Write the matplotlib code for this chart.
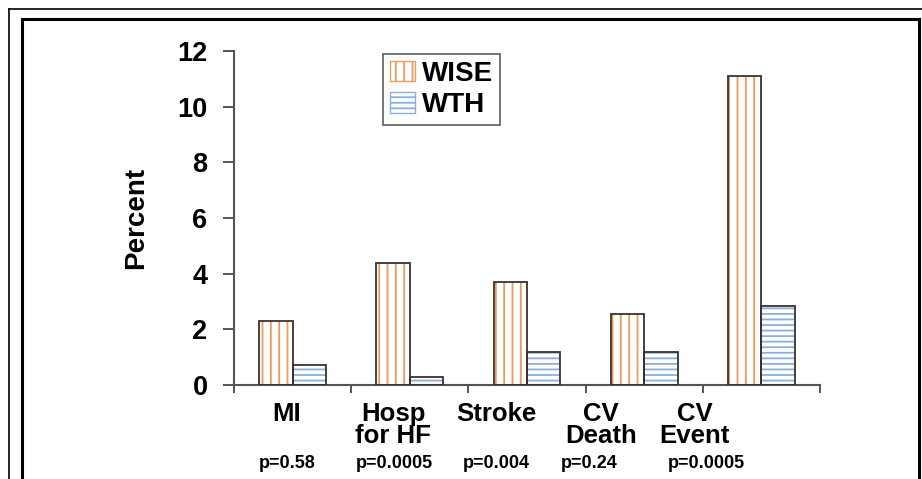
import matplotlib
matplotlib.use("Agg")
import matplotlib.pyplot as plt
import numpy as np
from matplotlib.lines import Line2D
from matplotlib.patches import Patch

categories = ["MI", "Hosp\nfor HF", "Stroke", "CV\nDeath", "CV\nEvent"]
wise = [2.31, 4.37, 3.70, 2.55, 11.10]
wth = [0.72, 0.30, 1.18, 1.18, 2.85]
p_values = ["p=0.58", "p=0.0005", "p=0.004", "p=0.24", "p=0.0005"]
yticks = [0, 2, 4, 6, 8, 10, 12]

# label placement (data units)
cat_label_x = [-0.05, 0.86, 1.74, 2.63, 3.43]
p_label_x = [-0.29, 0.54, 1.45, 2.29, 3.20]

plt.rcParams['font.family'] = ['Liberation Sans', 'DejaVu Sans']
plt.rcParams['font.weight'] = 'bold'
plt.rcParams['hatch.linewidth'] = 1.3

fig = plt.figure(figsize=(9.22, 4.79), dpi=100)
ax = fig.add_axes([234/922, 1-385/479, (820-234)/922, (385-51)/479])

x = np.arange(len(categories))
w = 0.285
orange = "#f09a5a"
blue = "#8cb0dc"
edge = "#3a3030"

# hatched fills
ax.bar(x - w/2, wise, w, color="white", edgecolor=orange, hatch="||", linewidth=0, zorder=2)
ax.bar(x + w/2, wth, w, color="white", edgecolor=blue, hatch="---", linewidth=0, zorder=2)
# outlines
ax.bar(x - w/2, wise, w, fill=False, edgecolor=edge, linewidth=1.3, zorder=3)
ax.bar(x + w/2, wth, w, fill=False, edgecolor=edge, linewidth=1.3, zorder=3)

ax.set_xlim(-0.5, 4.5)
ax.set_ylim(0, 12)
ax.set_yticks(yticks)
ax.set_yticklabels([str(v) for v in yticks], fontsize=19.5, fontweight='bold')
ax.set_xticks(np.arange(-0.5, 4.6, 1.0))
ax.set_xticklabels([])
ax.tick_params(axis='y', direction='out', length=8, width=1.4, color="#555555", pad=11)
ax.tick_params(axis='x', direction='out', length=6, width=1.4, color="#555555")
for s in ["top", "right"]:
    ax.spines[s].set_visible(False)
for s in ["left", "bottom"]:
    ax.spines[s].set_color("#555555")
    ax.spines[s].set_linewidth(1.5)

ax.set_ylabel("Percent", fontsize=20, fontweight='bold', labelpad=20)

for xi, lab in zip(cat_label_x, categories):
    ax.text(xi, -0.6, lab, ha='center', va='top', fontsize=18.5, fontweight='bold',
            linespacing=0.92, transform=ax.transData)
for xi, lab in zip(p_label_x, p_values):
    ax.text(xi, -2.5, lab, ha='left', va='top', fontsize=13, fontweight='bold',
            transform=ax.transData)

# legend
h1 = Patch(facecolor="white", edgecolor=orange, hatch="||")
h2 = Patch(facecolor="white", edgecolor=blue, hatch="---")
leg = ax.legend([h1, h2], ["WISE", "WTH"], loc='upper left', bbox_to_anchor=(0.255, 0.992),
                prop={'size': 20, 'weight': 'bold'}, frameon=True, fancybox=False,
                handlelength=0.9, handleheight=0.75, handletextpad=0.25, labelspacing=0.2,
                borderpad=0.25, borderaxespad=0)
leg.get_frame().set_edgecolor("#444444")
leg.get_frame().set_linewidth(1.3)

# figure frames
W, H = 922, 479
def fl(x0, y0, x1, y1, lw):
    fig.add_artist(Line2D([x0/W, x1/W], [1-y0/H, 1-y1/H], transform=fig.transFigure,
                          color="black", linewidth=lw, solid_capstyle='projecting'))
fl(9, 9, 925, 9, 1.2)
fl(9, 9, 9, 485, 1.2)
fl(22, 19, 919, 19, 2.2)
fl(22, 19, 22, 485, 2.2)
fl(919, 19, 919, 485, 2.2)

fig.savefig("out.png", dpi=100)
